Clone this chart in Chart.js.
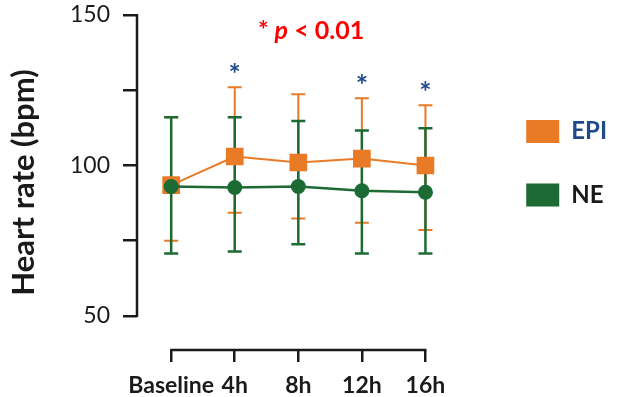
<!DOCTYPE html>
<html>
<head>
<meta charset="utf-8">
<script src="https://cdn.jsdelivr.net/npm/chart.js@4.4.0/dist/chart.umd.min.js"></script>
<style>
  html, body { margin: 0; padding: 0; background: #fff; }
</style>
</head>
<body>
<canvas id="chart" width="617" height="397"></canvas>
<script>
// categories and values (mean, upper and lower ends of error bars)
const categories = ['Baseline', '4h', '8h', '12h', '16h'];
const epiMean = [93.5, 103, 101, 102.3, 100];
const epiUpper = [116, 126, 123.7, 122.3, 120];
const epiLower = [75, 84.3, 82.4, 81, 78.6];
const neMean = [93, 92.7, 93, 91.6, 91.1];
const neUpper = [116, 116, 114.8, 111.6, 112.4];
const neLower = [70.8, 71.4, 73.8, 70.8, 70.8];
const significant = [false, true, false, true, true];
const yTicks = [50, 75, 100, 125, 150];

const orange = '#E97A26';
const green = '#1C6B35';
const blue = '#1F4A8C';
const ink = '#1a1a1a';
const font = 'Lato';

const errorBars = [
    { upper: epiUpper, lower: epiLower, color: orange, width: 2 },
    { upper: neUpper, lower: neLower, color: green, width: 2.5 }
];

const extras = {
    id: 'extras',
    beforeDatasetsDraw(chart) {
        const { ctx, chartArea, scales: { x, y } } = chart;
        ctx.save();
        ctx.strokeStyle = ink;
        ctx.lineWidth = 2.5;
        // y axis line (only between 50 and 150)
        ctx.beginPath();
        ctx.moveTo(chartArea.left, y.getPixelForValue(yTicks[yTicks.length - 1]) - 1);
        ctx.lineTo(chartArea.left, y.getPixelForValue(yTicks[0]) + 1);
        // x axis line (first to last category)
        ctx.moveTo(x.getPixelForValue(0) - 1, chartArea.bottom);
        ctx.lineTo(x.getPixelForValue(categories.length - 1) + 1, chartArea.bottom);
        ctx.stroke();

        // error bars
        errorBars.forEach(bar => {
            ctx.strokeStyle = bar.color;
            ctx.lineWidth = bar.width;
            bar.upper.forEach((hi, i) => {
                const px = x.getPixelForValue(i);
                const top = y.getPixelForValue(hi);
                const bot = y.getPixelForValue(bar.lower[i]);
                ctx.beginPath();
                ctx.moveTo(px, top); ctx.lineTo(px, bot);
                ctx.moveTo(px - 7, top); ctx.lineTo(px + 7, top);
                ctx.moveTo(px - 7, bot); ctx.lineTo(px + 7, bot);
                ctx.stroke();
            });
        });
        ctx.restore();
    },
    afterDraw(chart) {
        const { ctx, scales: { x, y } } = chart;
        ctx.save();
        // blue stars above the EPI error bars
        ctx.fillStyle = blue;
        ctx.font = 'bold 29px ' + font;
        ctx.textAlign = 'center';
        ctx.textBaseline = 'alphabetic';
        significant.forEach((s, i) => {
            if (!s) return;
            const px = x.getPixelForValue(i);
            ctx.fillText('*', px, y.getPixelForValue(epiUpper[i]) - 3);
        });

        // "* p < 0.01" note
        const parts = [
            { t: '* ', f: 'bold 25px ' + font },
            { t: 'p', f: 'italic bold 25px ' + font },
            { t: ' < 0.01', f: 'bold 25px ' + font }
        ];
        let total = 0;
        parts.forEach(p => { ctx.font = p.f; p.w = ctx.measureText(p.t).width; total += p.w; });
        let cx = x.getPixelForValue(2.2) - total / 2;
        const cy = y.getPixelForValue(144.7);
        ctx.fillStyle = '#FF0000';
        ctx.textAlign = 'left';
        ctx.textBaseline = 'middle';
        parts.forEach(p => { ctx.font = p.f; ctx.fillText(p.t, cx, cy); cx += p.w; });
        ctx.restore();
    }
};

const ctx = document.getElementById('chart').getContext('2d');
const myChart = new Chart(ctx, {
    type: 'line',
    data: {
        datasets: [{
            label: 'EPI',
            data: epiMean.map((v, i) => ({ x: i, y: v })),
            borderColor: orange,
            backgroundColor: orange,
            borderWidth: 2,
            pointStyle: 'rect',
            pointRadius: 12.5,
            pointBorderWidth: 0,
            order: 1
        }, {
            label: 'NE',
            data: neMean.map((v, i) => ({ x: i, y: v })),
            borderColor: green,
            backgroundColor: green,
            borderWidth: 2.5,
            pointStyle: 'circle',
            pointRadius: 7.5,
            pointBorderWidth: 0,
            order: 0
        }]
    },
    options: {
        responsive: false,
        animation: false,
        layout: { padding: { top: 15, right: 0, bottom: 0, left: 0 } },
        plugins: {
            tooltip: { enabled: false },
            legend: {
                position: 'right',
                align: 'start',
                title: {
                    display: true,
                    text: ' ',
                    font: { size: 10 },
                    padding: { top: 0, bottom: 53 }
                },
                labels: {
                    boxWidth: 33,
                    boxHeight: 23,
                    padding: 39.5,
                    font: { family: font, size: 24, weight: 'bold' },
                    generateLabels: (chart) => chart.data.datasets.map((ds, i) => ({
                        text: ds.label,
                        fillStyle: ds.backgroundColor,
                        strokeStyle: ds.backgroundColor,
                        lineWidth: 0,
                        fontColor: i === 0 ? blue : ink,
                        datasetIndex: i
                    }))
                }
            }
        },
        scales: {
            x: {
                type: 'linear',
                min: -0.5375,
                max: 4.964,
                afterBuildTicks: s => { s.ticks = categories.map((c, i) => ({ value: i })); },
                afterFit: s => { s.height = 47; },
                ticks: {
                    autoSkip: false,
                    maxRotation: 0,
                    padding: 10,
                    color: ink,
                    font: { family: font, size: 23, weight: 'bold' },
                    callback: v => categories[v]
                },
                grid: { drawOnChartArea: false, tickLength: 12, lineWidth: 2.5, color: ink },
                border: { display: false }
            },
            y: {
                min: 38.7,
                max: 150,
                afterBuildTicks: s => { s.ticks = yTicks.map(v => ({ value: v })); },
                afterFit: s => { s.width = 137; s.paddingTop = 0; s.paddingBottom = 0; },
                ticks: {
                    padding: 13,
                    color: ink,
                    font: { family: font, size: 23 },
                    callback: v => (v % 50 === 0 ? v : '')
                },
                grid: { drawOnChartArea: false, tickLength: 14, lineWidth: 2.5, color: ink },
                border: { display: false },
                title: {
                    display: true,
                    text: 'Heart rate (bpm)',
                    color: ink,
                    padding: { top: 5, bottom: 0 },
                    font: { family: font, size: 31, weight: 'bold' }
                }
            }
        }
    },
    plugins: [extras]
});
</script>
</body>
</html>
